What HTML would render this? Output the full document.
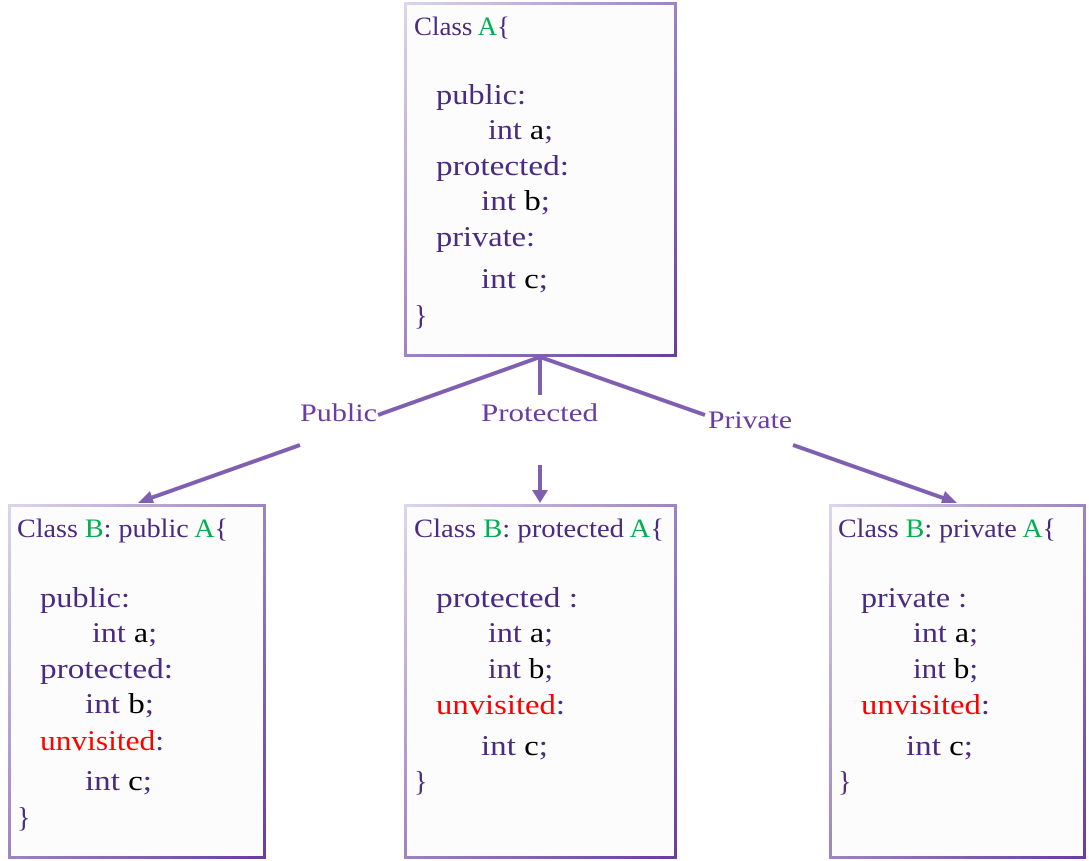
<!DOCTYPE html>
<html><head><style>html,body{margin:0;padding:0;background:#fff}svg{display:block}</style></head>
<body>
<svg width="1089" height="861" viewBox="0 0 1089 861" xmlns="http://www.w3.org/2000/svg" font-family="'Liberation Serif', serif">
<defs>
<linearGradient id="g" x1="0" y1="0" x2="1" y2="1">
<stop offset="0" stop-color="#ddd5ea"/><stop offset="0.5" stop-color="#9d84c2"/><stop offset="1" stop-color="#6a3d9e"/>
</linearGradient>
</defs>
<g fill="#fcfcfc" stroke="url(#g)" stroke-width="3">
<rect x="405.5" y="3.5" width="270" height="352"/>
<rect x="9.5" y="505.5" width="255" height="352"/>
<rect x="405.5" y="505.5" width="270" height="352"/>
<rect x="830.5" y="505.5" width="254" height="352"/>
</g>
<g stroke="#7f5fb0" stroke-width="4" fill="none">
<line x1="540" y1="357" x2="378" y2="415"/>
<line x1="300" y1="445" x2="148" y2="499"/>
<line x1="540" y1="357" x2="540" y2="395"/>
<line x1="540" y1="465" x2="540" y2="494"/>
<line x1="540" y1="357" x2="705" y2="415"/>
<line x1="793" y1="445" x2="946" y2="499"/>
</g>
<g fill="#7f5fb0">
<path d="M138,503 L150,491 L154,503 Z"/>
<path d="M532,490 L548,490 L540,503 Z"/>
<path d="M957,503 L941,503 L945,491 Z"/>
</g>
<g fill="#6a3d9e" font-size="25">
<text x="300" y="421" textLength="77" lengthAdjust="spacingAndGlyphs">Public</text>
<text x="481" y="421" textLength="117" lengthAdjust="spacingAndGlyphs">Protected</text>
<text x="708" y="428" textLength="84" lengthAdjust="spacingAndGlyphs">Private</text>
</g>
<g font-size="26" fill="#4b2a82">
<text x="414" y="35" textLength="96" lengthAdjust="spacingAndGlyphs">Class <tspan fill="#00b050">A</tspan>{</text>
<text x="436" y="104" font-size="28" textLength="90" lengthAdjust="spacingAndGlyphs">public:</text>
<text x="488" y="139" font-size="28" textLength="65" lengthAdjust="spacingAndGlyphs">int <tspan fill="#000">a</tspan>;</text>
<text x="436" y="175" font-size="28" textLength="133" lengthAdjust="spacingAndGlyphs">protected:</text>
<text x="481" y="210" font-size="28" textLength="69" lengthAdjust="spacingAndGlyphs">int <tspan fill="#000">b</tspan>;</text>
<text x="436" y="246" font-size="28" textLength="99" lengthAdjust="spacingAndGlyphs">private:</text>
<text x="481" y="288" font-size="28" textLength="67" lengthAdjust="spacingAndGlyphs">int <tspan fill="#000">c</tspan>;</text>
<text x="414" y="325" font-size="28">}</text>

<text x="17" y="537" textLength="211" lengthAdjust="spacingAndGlyphs">Class <tspan fill="#00b050">B</tspan>: public <tspan fill="#00b050">A</tspan>{</text>
<text x="40" y="607" font-size="28" textLength="90" lengthAdjust="spacingAndGlyphs">public:</text>
<text x="92" y="642" font-size="28" textLength="65" lengthAdjust="spacingAndGlyphs">int <tspan fill="#000">a</tspan>;</text>
<text x="40" y="678" font-size="28" textLength="133" lengthAdjust="spacingAndGlyphs">protected:</text>
<text x="85" y="713" font-size="28" textLength="69" lengthAdjust="spacingAndGlyphs">int <tspan fill="#000">b</tspan>;</text>
<text x="40" y="750" font-size="28" textLength="124" lengthAdjust="spacingAndGlyphs"><tspan fill="#ff0000">unvisited</tspan>:</text>
<text x="85" y="790" font-size="28" textLength="67" lengthAdjust="spacingAndGlyphs">int <tspan fill="#000">c</tspan>;</text>
<text x="17" y="827" font-size="28">}</text>

<text x="414" y="537" textLength="250" lengthAdjust="spacingAndGlyphs">Class <tspan fill="#00b050">B</tspan>: protected <tspan fill="#00b050">A</tspan>{</text>
<text x="436" y="607" font-size="28" textLength="142" lengthAdjust="spacingAndGlyphs">protected :</text>
<text x="488" y="642" font-size="28" textLength="65" lengthAdjust="spacingAndGlyphs">int <tspan fill="#000">a</tspan>;</text>
<text x="488" y="678" font-size="28" textLength="65" lengthAdjust="spacingAndGlyphs">int <tspan fill="#000">b</tspan>;</text>
<text x="436" y="714" font-size="28" textLength="129" lengthAdjust="spacingAndGlyphs"><tspan fill="#ff0000">unvisited</tspan>:</text>
<text x="481" y="755" font-size="28" textLength="67" lengthAdjust="spacingAndGlyphs">int <tspan fill="#000">c</tspan>;</text>
<text x="414" y="791" font-size="28">}</text>

<text x="838" y="537" textLength="218" lengthAdjust="spacingAndGlyphs">Class <tspan fill="#00b050">B</tspan>: private <tspan fill="#00b050">A</tspan>{</text>
<text x="861" y="607" font-size="28" textLength="106" lengthAdjust="spacingAndGlyphs">private :</text>
<text x="913" y="642" font-size="28" textLength="65" lengthAdjust="spacingAndGlyphs">int <tspan fill="#000">a</tspan>;</text>
<text x="913" y="678" font-size="28" textLength="65" lengthAdjust="spacingAndGlyphs">int <tspan fill="#000">b</tspan>;</text>
<text x="861" y="714" font-size="28" textLength="129" lengthAdjust="spacingAndGlyphs"><tspan fill="#ff0000">unvisited</tspan>:</text>
<text x="906" y="755" font-size="28" textLength="67" lengthAdjust="spacingAndGlyphs">int <tspan fill="#000">c</tspan>;</text>
<text x="838" y="791" font-size="28">}</text>
</g>
</svg>
</body></html>
